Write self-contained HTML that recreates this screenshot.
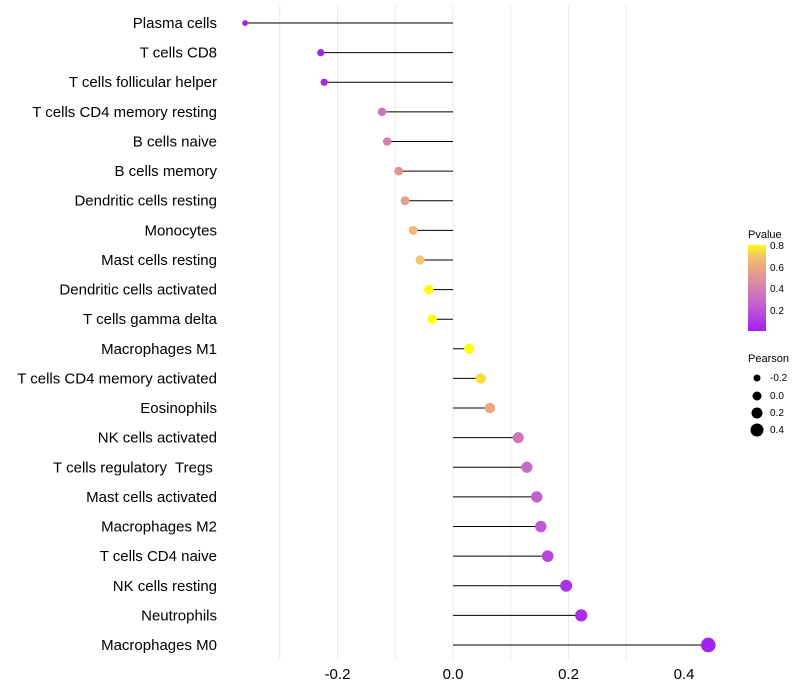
<!DOCTYPE html>
<html><head><meta charset="utf-8"><style>
body{margin:0;background:#fff;font-family:"Liberation Sans",sans-serif}
svg{display:block}
</style></head><body>
<svg id="chart" width="800" height="700" xmlns="http://www.w3.org/2000/svg">
<defs><linearGradient id="pg" x1="0" y1="1" x2="0" y2="0">
<stop offset="0" stop-color="#a020f0"/><stop offset="0.3" stop-color="#c45fd0"/><stop offset="0.55" stop-color="#d98aa8"/><stop offset="0.75" stop-color="#eba97f"/><stop offset="0.88" stop-color="#f2c66a"/><stop offset="1" stop-color="#ffff00"/></linearGradient></defs>
<g id="grid"></g>
<g id="marks"></g>
<g id="ylabels"></g>
<g id="xticks"></g>
<g font-size="10">
<text x="748" y="238" font-size="11">Pvalue</text>
<rect x="748" y="245" width="18" height="86" fill="url(#pg)"/>
<text x="770" y="249">0.8</text><text x="770" y="292">0.4</text><text x="770" y="271">0.6</text><text x="770" y="314">0.2</text>
</g>
<g font-size="10">
<text x="748" y="362" font-size="11">Pearson</text>
<circle cx="757" cy="378" r="3.5"/><text x="770" y="381">-0.2</text>
<circle cx="757" cy="396" r="4.5"/><text x="770" y="399">0.0</text>
<circle cx="757" cy="413" r="5.5"/><text x="770" y="416">0.2</text>
<circle cx="757" cy="430" r="6.5"/><text x="770" y="433">0.4</text>
</g>
</svg>
<script>
const categories=["Plasma cells","T cells CD8","T cells follicular helper","T cells CD4 memory resting","B cells naive","B cells memory","Dendritic cells resting","Monocytes","Mast cells resting","Dendritic cells activated","T cells gamma delta","Macrophages M1","T cells CD4 memory activated","Eosinophils","NK cells activated","T cells regulatory  Tregs ","Mast cells activated","Macrophages M2","T cells CD4 naive","NK cells resting","Neutrophils","Macrophages M0"];
const pearson=[-0.36,-0.229,-0.223,-0.123,-0.114,-0.094,-0.083,-0.069,-0.057,-0.042,-0.036,0.028,0.048,0.064,0.113,0.128,0.145,0.152,0.164,0.196,0.222,0.442];
const pvalue=[0.0,0.03,0.04,0.35,0.4,0.5,0.55,0.65,0.7,0.85,0.9,0.95,0.75,0.6,0.35,0.3,0.25,0.22,0.15,0.07,0.05,0.01];
const xTicks=[-0.2,0,0.2,0.4];
const xTickLabels=["-0.2","0.0","0.2","0.4"];
const gridVals=[-0.3,-0.2,-0.1,0,0.1,0.2,0.3];
const NS="http://www.w3.org/2000/svg";
const x=v=>453+v*577.5;
const y=i=>23+i*(622/21);
const stops=[[0,[160,32,240]],[0.25,[196,95,208]],[0.45,[217,138,168]],[0.6,[235,169,127]],[0.7,[242,198,106]],[0.82,[255,255,0]]];
function col(p){p=Math.min(0.82,Math.max(0,p));for(let i=1;i<stops.length;i++){if(p<=stops[i][0]){const a=stops[i-1],b=stops[i],t=(p-a[0])/(b[0]-a[0]);return "rgb("+a[1].map((c,k)=>Math.round(c+(b[1][k]-c)*t)).join(",")+")";}}return "rgb(255,255,0)";}
function mk(tag,attrs,parent){const e=document.createElementNS(NS,tag);for(const k in attrs)e.setAttribute(k,attrs[k]);parent.appendChild(e);return e;}
const grid=document.getElementById('grid'),marks=document.getElementById('marks'),yl=document.getElementById('ylabels'),xt=document.getElementById('xticks');
gridVals.forEach(v=>{const l=mk('line',{x1:x(v),x2:x(v),y1:5,y2:660,stroke:'#ebebeb','stroke-width':1},grid);

});
categories.forEach((c,i)=>{
const l=mk('line',{x1:x(0),x2:x(pearson[i]),y1:y(i),y2:y(i),stroke:'#000','stroke-width':1},marks);


const p=mk('circle',{cx:x(pearson[i]),cy:y(i),r:4.9+5.5*pearson[i],fill:col(pvalue[i])},marks);


const t=mk('text',{x:217,y:y(i)+5,'text-anchor':'end','font-size':15,fill:'#000',style:'white-space:pre'},yl);
t.textContent=c;


});
xTicks.forEach((v,i)=>{const t=mk('text',{x:x(v),y:679,'text-anchor':'middle','font-size':15,fill:'#000'},xt);
t.textContent=xTickLabels[i];

});
</script>
</body></html>
